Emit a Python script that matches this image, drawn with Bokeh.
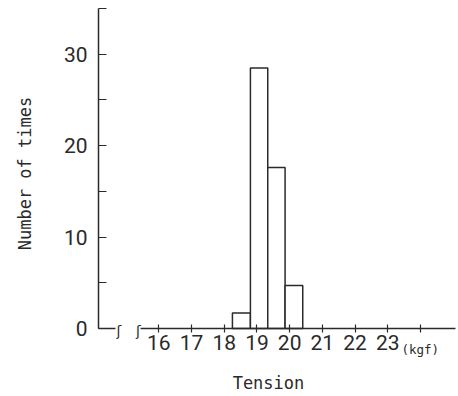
import math
from bokeh.plotting import figure
from bokeh.models import FixedTicker, Range1d, Label
from bokeh.embed import file_html
from bokeh.resources import INLINE

# data
bin_left = [18.25, 18.80, 19.33, 19.86]
bin_right = [18.80, 19.33, 19.86, 20.40]
counts = [1.7, 28.5, 17.6, 4.7]
x_ticks = [16, 17, 18, 19, 20, 21, 22, 23, 24]
x_tick_labels = {16: "16", 17: "17", 18: "18", 19: "19", 20: "20", 21: "21", 22: "22", 23: "23", 24: ""}
y_ticks = [0, 10, 20, 30]
y_minor = [5, 15, 25, 35]

# layout constants (data units)
Y_AXIS_AT = 14.156
break_x = [14.78, 15.37]
axis_seg_x0 = [Y_AXIS_AT, 15.44]
axis_seg_x1 = [14.675, 25.07]

INK = "#2a2a2a"
TICK_FONT = "Roboto"
LABEL_FONT = "DejaVu Sans Mono"

p = figure(width=458, height=396, output_backend="svg", toolbar_location=None,
           x_range=Range1d(11.159, 25.162), y_range=Range1d(-7.437, 35.875),
           min_border_left=0, min_border_right=0, min_border_top=0, min_border_bottom=0)
p.outline_line_color = None
p.grid.visible = False
p.background_fill_color = "white"
p.border_fill_color = "white"

p.quad(left=bin_left, right=bin_right, bottom=0, top=counts,
       fill_color="white", line_color=INK, line_width=1.5)

# x axis line with break
p.segment(x0=axis_seg_x0, y0=[0, 0], x1=axis_seg_x1, y1=[0, 0], line_color=INK, line_width=1.5)
for bx in break_x:
    p.add_layout(Label(x=bx, y=-0.25, text="ʃ", text_align="center", text_baseline="middle",
                       text_font="DejaVu Sans", text_font_size="14px", text_color=INK))

xa = p.xaxis[0]
xa.fixed_location = 0
xa.ticker = FixedTicker(ticks=x_ticks)
xa.major_label_overrides = x_tick_labels
xa.axis_line_color = None
xa.major_tick_in = 4
xa.major_tick_out = 4
xa.major_tick_line_color = INK
xa.major_tick_line_width = 1.2
xa.minor_tick_line_color = None
xa.major_label_text_font = TICK_FONT
xa.major_label_text_font_size = "21px"
xa.major_label_text_color = INK
xa.major_label_standoff = 2

ya = p.yaxis[0]
ya.fixed_location = Y_AXIS_AT
ya.bounds = (0, 35)
ya.ticker = FixedTicker(ticks=y_ticks, minor_ticks=y_minor)
ya.axis_line_color = INK
ya.axis_line_width = 1.5
ya.major_tick_in = 8
ya.major_tick_out = 0
ya.minor_tick_in = 8
ya.minor_tick_out = 0
ya.major_tick_line_color = INK
ya.minor_tick_line_color = INK
ya.major_tick_line_width = 1.2
ya.minor_tick_line_width = 1.2
ya.major_label_text_font = TICK_FONT
ya.major_label_text_font_size = "21px"
ya.major_label_text_color = INK
ya.major_label_standoff = 11

p.add_layout(Label(x=19.352, y=-5.906, text="Tension", text_align="center", text_baseline="middle",
                   text_font=LABEL_FONT, text_font_size="17px", text_color=INK))
p.add_layout(Label(x=11.92, y=16.95, text="Number of times", angle=math.pi / 2,
                   text_align="center", text_baseline="middle",
                   text_font=LABEL_FONT, text_font_size="17px", text_color=INK))
p.add_layout(Label(x=23.418, y=-2.3, text="(kgf)", text_align="left", text_baseline="alphabetic",
                   text_font=LABEL_FONT, text_font_size="12.5px", text_color=INK))

open("out.html", "w").write(file_html(p, INLINE))
